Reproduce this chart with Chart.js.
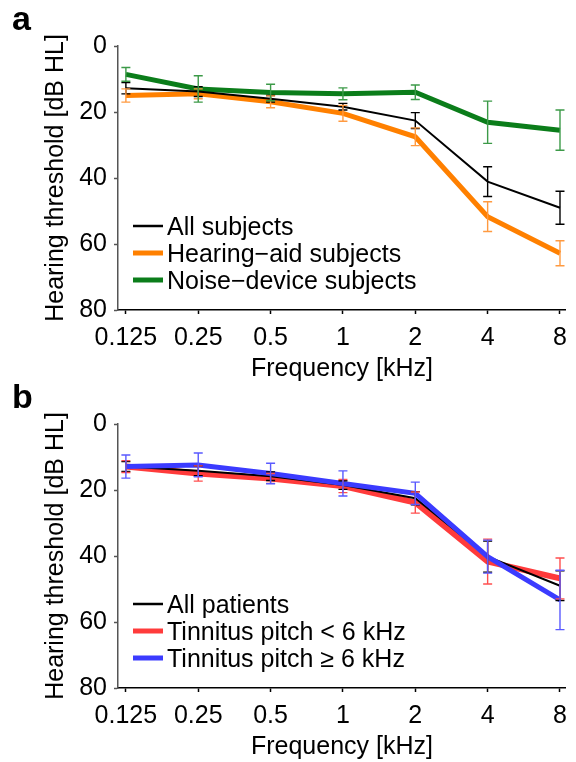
<!DOCTYPE html>
<html>
<head>
<meta charset="utf-8">
<script src="https://cdn.jsdelivr.net/npm/chart.js@4"></script>
<style>
  body { margin: 0; background: #fff; width: 576px; height: 762px; position: relative; overflow: hidden; }
  canvas { position: absolute; left: 0; }
  #chartA { top: 0; }
  #chartB { top: 378px; }
</style>
</head>
<body>
<canvas id="chartA" width="576" height="390"></canvas>
<canvas id="chartB" width="576" height="384"></canvas>
<script>
const freqLabels = ['0.125', '0.25', '0.5', '1', '2', '4', '8'];
const yTicks = [0, 20, 40, 60, 80];

// panel a
const allSubjects = [12.8, 13.8, 16.0, 18.4, 22.6, 41.1, 49.0];
const allSubjectsErr = [1.7, 1.5, 1.0, 1.0, 2.4, 4.5, 5.0];
const hearingAid = [15.0, 14.5, 16.9, 20.4, 27.5, 51.7, 62.8];
const hearingAidErr = [2.0, 1.5, 1.8, 2.4, 2.7, 4.5, 3.8];
const noiseDevice = [8.6, 13.0, 14.1, 14.5, 14.0, 23.1, 25.5];
const noiseDeviceErr = [2.1, 4.0, 2.5, 1.8, 2.2, 6.4, 6.1];

// panel b
const allPatients = [12.9, 14.2, 15.8, 18.5, 22.5, 40.2, 49.0];
const allPatientsErr = [1.5, 1.5, 1.3, 1.3, 2.0, 4.7, 4.5];
const pitchLow = [12.9, 15.0, 16.5, 18.8, 23.8, 41.7, 46.8];
const pitchLowErr = [1.8, 2.3, 1.5, 2.0, 3.2, 6.8, 6.2];
const pitchHigh = [12.9, 12.4, 15.0, 18.0, 21.0, 40.2, 53.3];
const pitchHighErr = [3.5, 3.6, 3.1, 3.8, 3.4, 5.0, 9.0];

const FONT = "'Liberation Sans', Arial, sans-serif";
Chart.defaults.font.family = FONT;
Chart.defaults.font.size = 25;
Chart.defaults.color = '#000';

// error bars + legend + panel letter, drawn after the lines
const panelPlugin = {
  id: 'panel',
  afterDatasetsDraw(chart) {
    const ctx = chart.ctx;
    const xs = chart.scales.x, ys = chart.scales.y;
    ctx.save();
    chart.data.datasets.forEach((ds) => {
      ctx.strokeStyle = ds.errColor;
      ctx.lineWidth = 1.4;
      ds.data.forEach((p, i) => {
        const e = ds.errors[i];
        const x = xs.getPixelForValue(p.x);
        const y1 = ys.getPixelForValue(p.y - e);
        const y2 = ys.getPixelForValue(p.y + e);
        ctx.beginPath();
        ctx.moveTo(x, y1); ctx.lineTo(x, y2);
        ctx.moveTo(x - 4.5, y1); ctx.lineTo(x + 4.5, y1);
        ctx.moveTo(x - 4.5, y2); ctx.lineTo(x + 4.5, y2);
        ctx.stroke();
      });
    });
    ctx.restore();
  },
  afterDraw(chart, args, opts) {
    const ctx = chart.ctx;
    ctx.save();
    ctx.fillStyle = '#000';
    ctx.font = 'bold 34px ' + FONT;
    ctx.textBaseline = 'alphabetic';
    ctx.fillText(opts.letter, 12, 30);
    ctx.font = '25px ' + FONT;
    opts.items.forEach((it, k) => {
      const y = 226 + k * 27;
      ctx.strokeStyle = it.color;
      ctx.lineWidth = it.width;
      ctx.beginPath();
      ctx.moveTo(133, y); ctx.lineTo(163, y);
      ctx.stroke();
      ctx.fillText(it.text, 167, y + 9);
    });
    ctx.restore();
  }
};

function makeChart(id, height, letter, series) {
  const datasets = series.map((s) => ({
    label: s.label,
    data: s.values.map((v, i) => ({ x: i, y: v })),
    errors: s.errors,
    errColor: s.errColor,
    borderColor: s.color,
    borderWidth: s.width,
    order: s.order,
    pointRadius: 0,
    tension: 0,
    fill: false
  }));
  return new Chart(document.getElementById(id), {
    type: 'line',
    data: { datasets },
    plugins: [panelPlugin],
    options: {
      responsive: false,
      animation: false,
      devicePixelRatio: 1,
      layout: { padding: { top: 46, right: 4, left: 0, bottom: 0 } },
      plugins: {
        legend: { display: false },
        tooltip: { enabled: false },
        panel: {
          letter,
          items: series.map((s) => ({ text: s.label, color: s.color, width: s.legendWidth }))
        }
      },
      scales: {
        x: {
          type: 'linear',
          min: -0.109,
          max: 6.082,
          afterFit(scale) { scale.height = height - 310; },
          afterBuildTicks(scale) {
            scale.ticks = freqLabels.map((l, i) => ({ value: i }));
          },
          ticks: {
            autoSkip: false,
            maxRotation: 0,
            padding: 9,
            callback: (v) => freqLabels[v]
          },
          grid: { drawOnChartArea: false, tickLength: 4, color: '#000', tickWidth: 1.5 },
          border: { color: '#000', width: 1.5 },
          title: {
            display: true,
            text: 'Frequency [kHz]',
            font: { size: 25 },
            padding: { top: 0, bottom: height > 386 ? 6 : 0 }
          }
        },
        y: {
          type: 'linear',
          reverse: true,
          min: 0,
          max: 80,
          afterFit(scale) { scale.width = 118; },
          afterBuildTicks(scale) {
            scale.ticks = yTicks.map((v) => ({ value: v }));
          },
          ticks: { padding: 7, callback: (v) => String(v) },
          grid: { drawOnChartArea: false, tickLength: 4, color: '#555', tickWidth: 1.5 },
          border: { color: '#555', width: 1.5 },
          title: {
            display: true,
            text: 'Hearing threshold [dB HL]',
            font: { size: 25 },
            padding: { top: 41, bottom: 0 }
          }
        }
      }
    }
  });
}

makeChart('chartA', 390, 'a', [
  { label: 'All subjects', values: allSubjects, errors: allSubjectsErr, color: '#000000', errColor: '#000000', width: 2, legendWidth: 2.5, order: 1 },
  { label: 'Hearing\u2212aid subjects', values: hearingAid, errors: hearingAidErr, color: '#ff8000', errColor: '#ff9a40', width: 5, legendWidth: 5, order: 3 },
  { label: 'Noise\u2212device subjects', values: noiseDevice, errors: noiseDeviceErr, color: '#0b7d1a', errColor: '#3c9a48', width: 5, legendWidth: 5, order: 2 }
]);

makeChart('chartB', 384, 'b', [
  { label: 'All patients', values: allPatients, errors: allPatientsErr, color: '#000000', errColor: '#000000', width: 2, legendWidth: 2.5, order: 2 },
  { label: 'Tinnitus pitch < 6 kHz', values: pitchLow, errors: pitchLowErr, color: '#ff3b3b', errColor: '#ff4f4f', width: 6, legendWidth: 5, order: 3 },
  { label: 'Tinnitus pitch \u2265 6 kHz', values: pitchHigh, errors: pitchHighErr, color: '#3b3bff', errColor: '#5a5aff', width: 5, legendWidth: 5, order: 1 }
]);
</script>
</body>
</html>
